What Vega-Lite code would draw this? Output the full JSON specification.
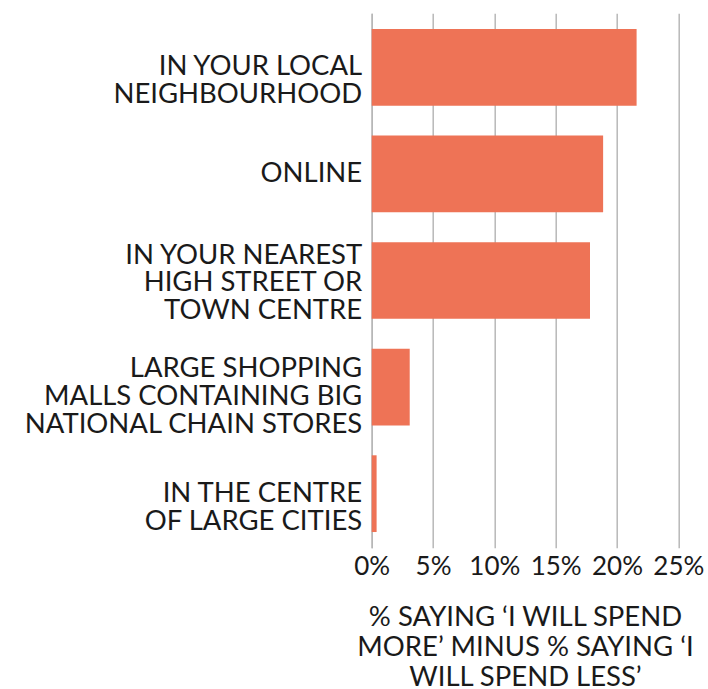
{
  "$schema": "https://vega.github.io/schema/vega-lite/v6.json",
  "autosize": {"type": "none"},
  "padding": {"left": 371.7, "top": 13.3, "right": 30, "bottom": 141.3},
  "width": 306.6,
  "height": 534.4,
  "background": "white",
  "config": {
    "view": {"stroke": null},
    "font": "Lato",
    "axis": {"labelFont": "Lato", "titleFont": "Lato"}
  },
  "data": {
    "values": [
      {"place": "IN YOUR LOCAL|NEIGHBOURHOOD", "net": 0.216},
      {"place": "ONLINE", "net": 0.1887},
      {"place": "IN YOUR NEAREST|HIGH STREET OR|TOWN CENTRE", "net": 0.178},
      {"place": "LARGE SHOPPING|MALLS CONTAINING BIG|NATIONAL CHAIN STORES\u00a0", "net": 0.031},
      {"place": "IN THE CENTRE|OF LARGE CITIES", "net": 0.004}
    ]
  },
  "mark": {"type": "bar", "color": "#ee7356"},
  "encoding": {
    "y": {
      "field": "place",
      "type": "nominal",
      "sort": null,
      "scale": {"paddingInner": 0.28, "paddingOuter": 0.147},
      "axis": {
        "title": null,
        "labelExpr": "split(datum.label, '|')",
        "labelFontSize": 27.5,
        "labelLineHeight": 28,
        "labelColor": "#1a1a1a",
        "labelPadding": 10,
        "labelLimit": 400,
        "ticks": false,
        "domain": true,
        "domainColor": "#b8b8b8",
        "domainWidth": 1.5,
        "labelOffset": {
          "condition": [
            {"test": "datum.value == 'IN YOUR NEAREST|HIGH STREET OR|TOWN CENTRE'", "value": -25},
            {"test": "datum.value == 'LARGE SHOPPING|MALLS CONTAINING BIG|NATIONAL CHAIN STORES\u00a0'", "value": -18}
          ],
          "value": 0
        }
      }
    },
    "x": {
      "field": "net",
      "type": "quantitative",
      "scale": {"domain": [0, 0.25], "nice": false, "zero": true},
      "axis": {
        "values": [0, 0.05, 0.1, 0.15, 0.2, 0.25],
        "format": ".0%",
        "domain": false,
        "ticks": false,
        "grid": true,
        "gridColor": "#b8b8b8",
        "gridWidth": 1.5,
        "labelFontSize": 26,
        "labelColor": "#1a1a1a",
        "labelPadding": 6,
        "labelOverlap": false,
        "labelFlush": false,
        "labelBound": false,
        "title": ["% SAYING ‘I WILL SPEND", "MORE’ MINUS % SAYING ‘I", "WILL SPEND LESS’"],
        "titleFontSize": 27.5,
        "titleFontWeight": "normal",
        "titleColor": "#1a1a1a",
        "titleLineHeight": 30,
        "titlePadding": 24
      }
    }
  }
}
